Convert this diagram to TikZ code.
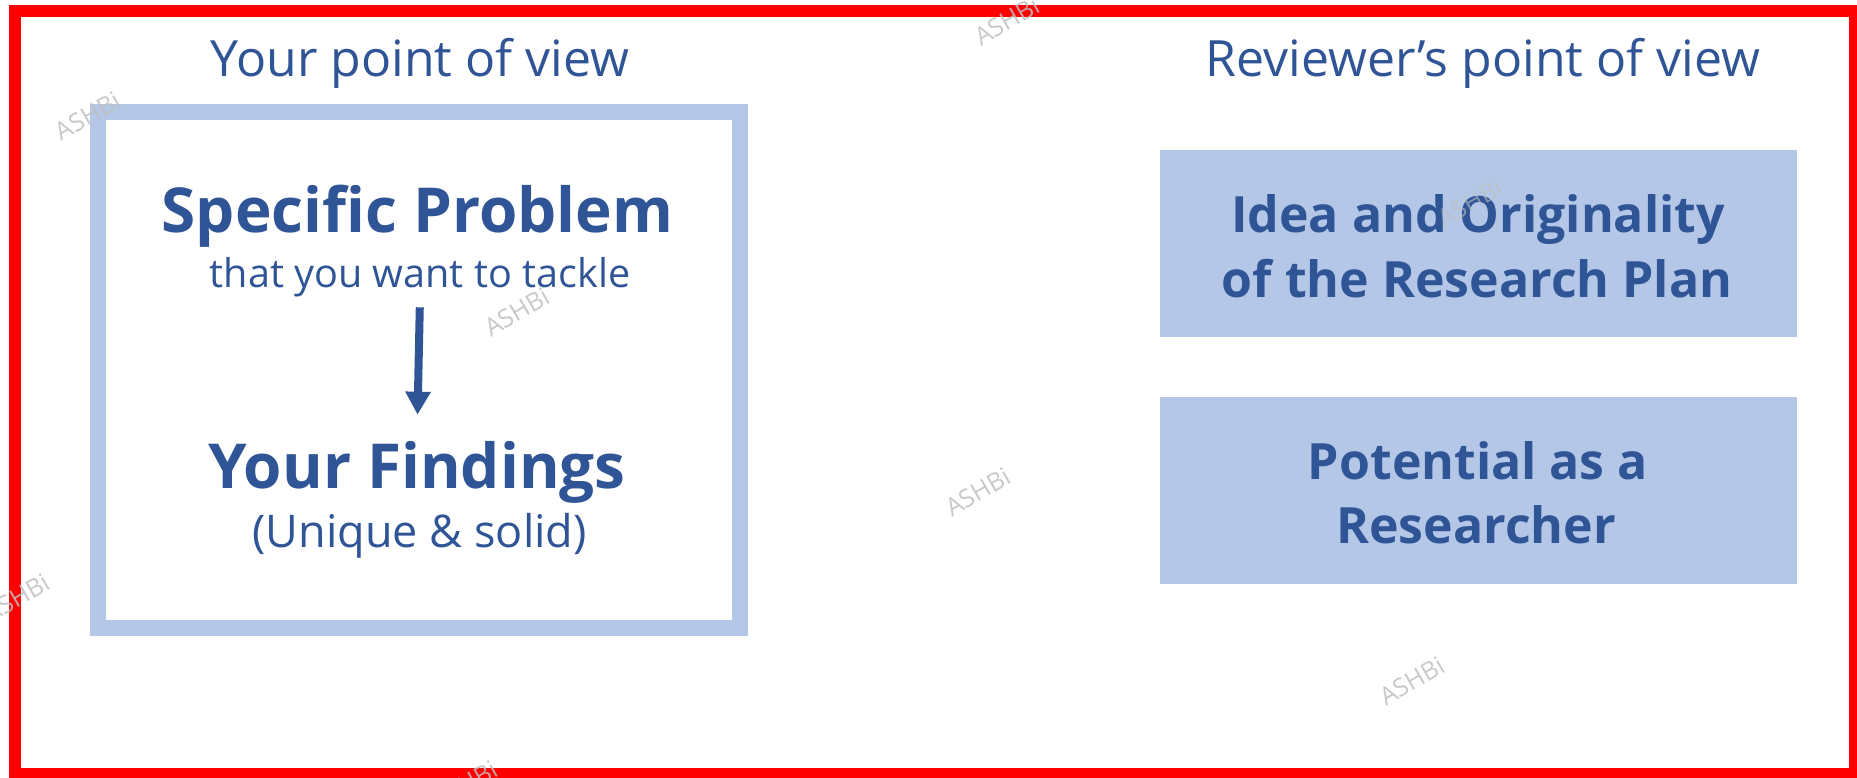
\documentclass[tikz,border=0pt]{standalone}
\usepackage{fontspec}
\setmainfont{Open Sans}
\usetikzlibrary{arrows.meta}
\definecolor{lblue}{HTML}{B4C7E7}
\definecolor{dblue}{HTML}{2F5597}
\definecolor{wmgray}{HTML}{BFBFBF}
\begin{document}
\begin{tikzpicture}[x=1pt,y=-1pt,
  txt/.style={text=dblue, inner sep=0pt, anchor=base},
  title/.style={txt, font=\fontsize{50}{60}\selectfont},
  head/.style={txt, font=\fontsize{62}{74}\selectfont\bfseries},
  sub/.style={txt, font=\fontsize{39.6}{47}\selectfont},
  subb/.style={txt, font=\fontsize{45}{54}\selectfont},
  boxtxt/.style={txt, font=\fontsize{50}{60}\selectfont\bfseries},
  fillbox/.style={fill=lblue, draw=none, minimum width=637pt, minimum height=187pt, inner sep=0pt},
  framebox/.style={draw=lblue, line width=16pt, minimum width=642pt, minimum height=516pt, inner sep=0pt},
  redframe/.style={draw=red, line width=11.5pt, minimum width=1839.7pt, minimum height=762.5pt, inner sep=0pt},
  arr/.style={draw=dblue, line width=8pt, -{Triangle[width=24pt,length=23pt]}},
  wm/.style={text=wmgray, opacity=0.85, font=\fontsize{25}{28}\selectfont, rotate=30, inner sep=0pt}
]
\useasboundingbox (0,0) rectangle (1857,778);
\node[redframe] (frame) at (934.65,392.25) {};
\node[framebox] (left) at (419,370) {};
\node[fillbox] (box1) at (1478.5,243.5) {};
\node[fillbox] (box2) at (1478.5,490.5) {};

\node[title] (t1) at (420,77) {Your point of view};
\node[title] (t2) at (1483,77) {Reviewer’s point of view};

\node[head] (spec) at (417.5,232) {Specific Problem};
\node[sub] (tackle) at (420,287) {that you want to tackle};
\node[head] (findings) at (417,488) {Your Findings};
\node[subb] (unique) at (419.7,547) {(Unique \& solid)};

\draw[arr, shorten <=10.6pt, shorten >=26pt] (tackle.south) -- (findings.north);

\node[boxtxt] (b1a) at (1478,232) {Idea and Originality};
\node[boxtxt] (b1b) at (1477,297) {of the Research Plan};
\node[boxtxt] (b2a) at (1478,479) {Potential as a};
\node[boxtxt] (b2b) at (1476,543) {Researcher};

\node[wm] (w1) at (88,116) {ASHBi};
\node[wm] (w2) at (517,312) {ASHBi};
\node[wm] (w3) at (1007,21) {ASHBi};
\node[wm, opacity=0.6] (w4) at (1470,203) {ASHBi};
\node[wm] (w5) at (978,492) {ASHBi};
\node[wm] (w6) at (1412,681) {ASHBi};
\node[wm] (w7) at (17,598) {ASHBi};
\node[wm] (w8) at (465,785) {ASHBi};
\end{tikzpicture}
\end{document}
